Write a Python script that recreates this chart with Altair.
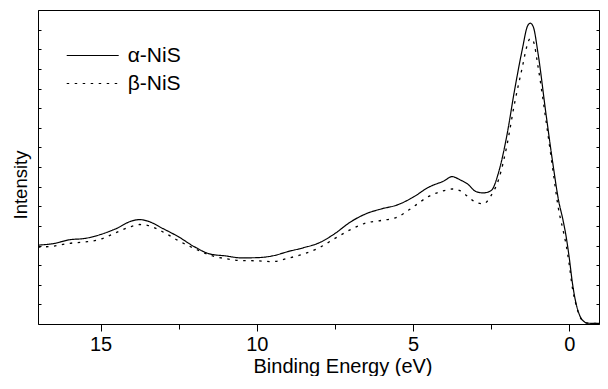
import altair as alt
import pandas as pd

# Binding energy sample points (eV), descending
energy = [17.0, 16.5, 16.0, 15.5, 15.0, 14.5, 14.0, 13.75, 13.5, 13.0, 12.5, 12.0,
          11.5, 11.0, 10.5, 10.0, 9.5, 9.0, 8.5, 8.0, 7.5, 7.0, 6.5, 6.0, 5.5, 5.0,
          4.5, 4.0, 3.75, 3.5, 3.25, 3.0, 2.75, 2.5, 2.25, 2.0, 1.75, 1.5, 1.35,
          1.25, 1.15, 1.0, 0.75, 0.5, 0.35, 0.2, 0.1, 0.0, -0.1, -0.2, -0.3,
          -0.45, -0.6, -0.95]

alpha_nis = [4.02, 4.10, 4.29, 4.36, 4.56, 4.86, 5.25, 5.32, 5.25, 4.86, 4.44, 3.94,
             3.57, 3.47, 3.37, 3.38, 3.47, 3.69, 3.89, 4.14, 4.61, 5.20, 5.62, 5.87,
             6.07, 6.46, 6.97, 7.30, 7.51, 7.35, 7.13, 6.76, 6.68, 6.80, 7.80, 9.59,
             11.93, 14.03, 15.13, 15.33, 15.13, 13.78, 10.75, 7.89, 6.35, 5.28, 4.44,
             3.35, 2.08, 1.16, 0.57, 0.15, 0.04, 0.03]

beta_nis = [3.92, 3.97, 4.11, 4.18, 4.32, 4.66, 4.98, 5.07, 5.03, 4.69, 4.24, 3.85,
            3.51, 3.33, 3.23, 3.22, 3.18, 3.35, 3.57, 3.89, 4.36, 4.81, 5.15, 5.28,
            5.45, 5.96, 6.50, 6.80, 6.88, 6.80, 6.50, 6.21, 6.12, 6.55, 7.42, 9.07,
            11.26, 13.11, 14.20, 14.55, 14.40, 13.11, 10.41, 7.56, 5.90, 4.78, 4.02,
            3.01, 1.83, 1.08, 0.52, 0.13, 0.04, 0.03]

series_names = ["α-NiS", "β-NiS"]
major_ticks = [15, 10, 5, 0]
minor_ticks = [12.5, 7.5, 2.5]
y_ticks = list(range(0, 17))

n = len(energy)
df = pd.DataFrame({
    "energy": energy + energy,
    "intensity": alpha_nis + beta_nis,
    "series": [series_names[0]] * n + [series_names[1]] * n,
})

W, H = 561, 314
FONT = "Liberation Sans"

xscale = alt.Scale(domain=[17.0, -0.95], nice=False, zero=False)
yscale = alt.Scale(domain=[0, 16], nice=False)

dash = alt.StrokeDash(
    "series:N",
    scale=alt.Scale(domain=series_names, range=[[1, 0], [2.5, 5.5]]),
    legend=alt.Legend(
        orient="none", legendX=27.7, legendY=31.5, title=None,
        symbolType="stroke", symbolSize=2704, symbolStrokeWidth=1.2,
        symbolStrokeColor="black", labelFontSize=21, labelFont=FONT,
        labelColor="black", clipHeight=28, rowPadding=0, labelOffset=8,
        padding=0,
    ),
)

base = alt.Chart(df)

line_a = base.transform_filter(alt.datum.series == series_names[0]).mark_line(
    color="black", strokeWidth=1.2, interpolate="monotone"
).encode(
    x=alt.X("energy:Q", scale=xscale, axis=alt.Axis(
        orient="bottom", values=major_ticks, title="Binding Energy (eV)",
        tickSize=7, tickColor="black", labelFontSize=20, labelFont=FONT,
        labelColor="black", labelPadding=3, labelFlush=False, domain=False,
        grid=False, titleFont=FONT, titleFontSize=20, titleFontWeight="normal",
        titleColor="black", titleX=304.5, titleY=48, titleAlign="center",
        titleBaseline="alphabetic")),
    y=alt.Y("intensity:Q", scale=yscale, axis=alt.Axis(
        orient="right", offset=-W, values=y_ticks, labels=False, tickSize=3,
        tickColor="black", domain=False, grid=False, title="Intensity",
        titleFont=FONT, titleFontSize=18.5, titleFontWeight="normal",
        titleColor="black", titleX=-18, titleY=174.5, titleAngle=270,
        titleAlign="center", titleBaseline="middle")),
    strokeDash=dash,
)

line_b = base.transform_filter(alt.datum.series == series_names[1]).mark_line(
    color="black", strokeWidth=1.3, interpolate="monotone"
).encode(
    x=alt.X("energy:Q", scale=xscale, axis=alt.Axis(
        orient="bottom", values=minor_ticks, labels=False, tickSize=5,
        tickColor="black", domain=False, grid=False, title=None)),
    y=alt.Y("intensity:Q", scale=yscale, axis=alt.Axis(
        orient="left", offset=-W, values=y_ticks, labels=False, tickSize=3,
        tickColor="black", domain=False, grid=False, title=None)),
    strokeDash=dash,
)

chart = alt.layer(line_a, line_b).resolve_axis(
    x="independent", y="independent"
).properties(
    width=W, height=H,
    autosize=alt.AutoSizeParams(type="none"),
    padding={"left": 30, "top": 2, "right": 1, "bottom": 52},
    background="white",
).configure_view(stroke="black", strokeWidth=1)

chart.save("out.html", embed_options={"renderer": "svg", "actions": False})
